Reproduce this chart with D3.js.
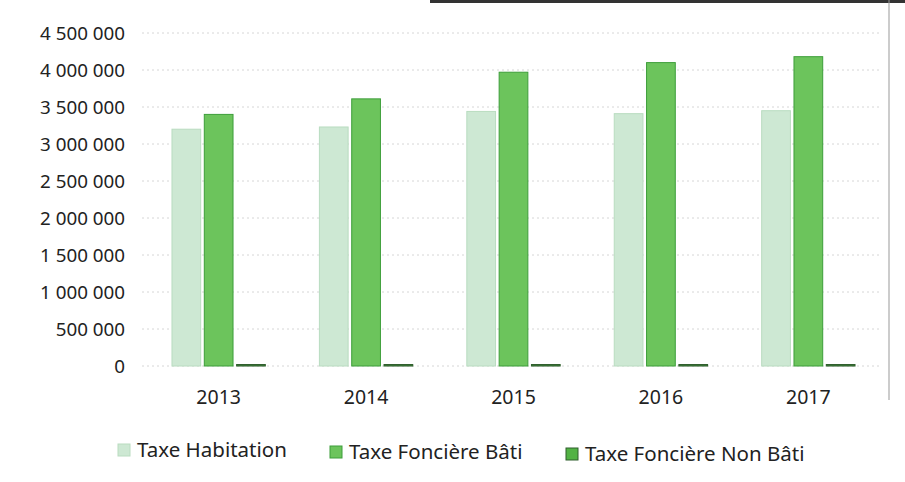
<!DOCTYPE html>
<html><head><meta charset="utf-8">
<script src="https://cdn.jsdelivr.net/npm/d3@7"></script>
<style>body{margin:0;background:#fff}svg{display:block}text{font-family:"Noto Sans",sans-serif;fill:#222}</style>
</head><body><svg id="c" width="905" height="482"></svg>
<script>
const years = ["2013","2014","2015","2016","2017"];
const seriesNames = ["Taxe Habitation","Taxe Foncière Bâti","Taxe Foncière Non Bâti"];
const taxeHabitation = [3200000,3230000,3440000,3410000,3450000];
const taxeFonciereBati = [3400000,3610000,3970000,4100000,4180000];
const taxeFonciereNonBati = [20000,20000,20000,20000,20000];
const yTicks = [0,500000,1000000,1500000,2000000,2500000,3000000,3500000,4000000,4500000];

const series = [taxeHabitation, taxeFonciereBati, taxeFonciereNonBati];
const fills = ["#cde8d3","#6cc45c","#3f7f3a"];
const strokes = ["#b9dcc0","#3d9e3a","#2f5f2c"];
const legendFills = ["#cde8d3","#6cc45c","#52b244"];

const svg = d3.select("#c");
const m = {l:142, r:885, t:33, b:366};
const x = d3.scaleBand().domain(years).range([m.l, m.r]).paddingInner(0.36).paddingOuter(0.2);
const xs = d3.scaleBand().domain(d3.range(3)).range([0, x.bandwidth()]).paddingInner(0.08);
const y = d3.scaleLinear().domain([0,4500000]).range([m.b, m.t]);

// scan border
svg.append("line").attr("x1",430).attr("x2",905).attr("y1",1.5).attr("y2",1.5).attr("stroke","#333").attr("stroke-width",3);
svg.append("line").attr("x1",889).attr("x2",889).attr("y1",0).attr("y2",400).attr("stroke","#999").attr("stroke-width",1);

// grid
svg.append("g").selectAll("line").data(yTicks).join("line")
  .attr("x1",m.l).attr("x2",m.r-5).attr("y1",d=>y(d)).attr("y2",d=>y(d))
  .attr("stroke","#d6d6d6").attr("stroke-dasharray","2,3");

// y axis
const fmt = d => d3.format(",")(d).replace(/,/g," ");
const ya = svg.append("g").attr("transform",`translate(${m.l-17},0)`)
  .call(d3.axisLeft(y).tickValues(yTicks).tickFormat(fmt).tickSize(0).tickPadding(0));
ya.select(".domain").remove();
ya.selectAll("text").style("font-size","18.8px").style("font-family","Noto Sans").attr("fill","#222").attr("dy","0.35em");

// bars
const g = svg.append("g").selectAll("g").data(years).join("g").attr("transform",d=>`translate(${x(d)},0)`);
g.selectAll("rect").data((d,i)=>series.map((s,k)=>({k,v:s[i]}))).join("rect")
  .attr("x",d=>xs(d.k)+0.5).attr("width",xs.bandwidth()-1)
  .attr("y",d=>y(d.v)).attr("height",d=>Math.max(1.5,m.b-y(d.v)))
  .attr("fill",d=>fills[d.k]).attr("stroke",d=>strokes[d.k]).attr("stroke-width",1);

// x axis
const xa = svg.append("g").attr("transform",`translate(0,${m.b+4})`)
  .call(d3.axisBottom(x).tickSize(0).tickPadding(20));
xa.select(".domain").remove();
xa.selectAll("text").style("font-size","19.5px").style("font-family","Noto Sans").attr("fill","#222");

// legend
const legX = [118, 330, 566];
const lg = svg.append("g").selectAll("g").data(seriesNames).join("g")
  .attr("transform",(d,i)=>`translate(${legX[i]},${450+i*2})`);
lg.append("rect").attr("x",0).attr("y",-6).attr("width",12).attr("height",12)
  .attr("fill",(d,i)=>legendFills[i]).attr("stroke",(d,i)=>strokes[i]);
lg.append("text").attr("x",19).attr("dy","0.35em").style("font-size","20.5px").text(d=>d);
</script></body></html>
